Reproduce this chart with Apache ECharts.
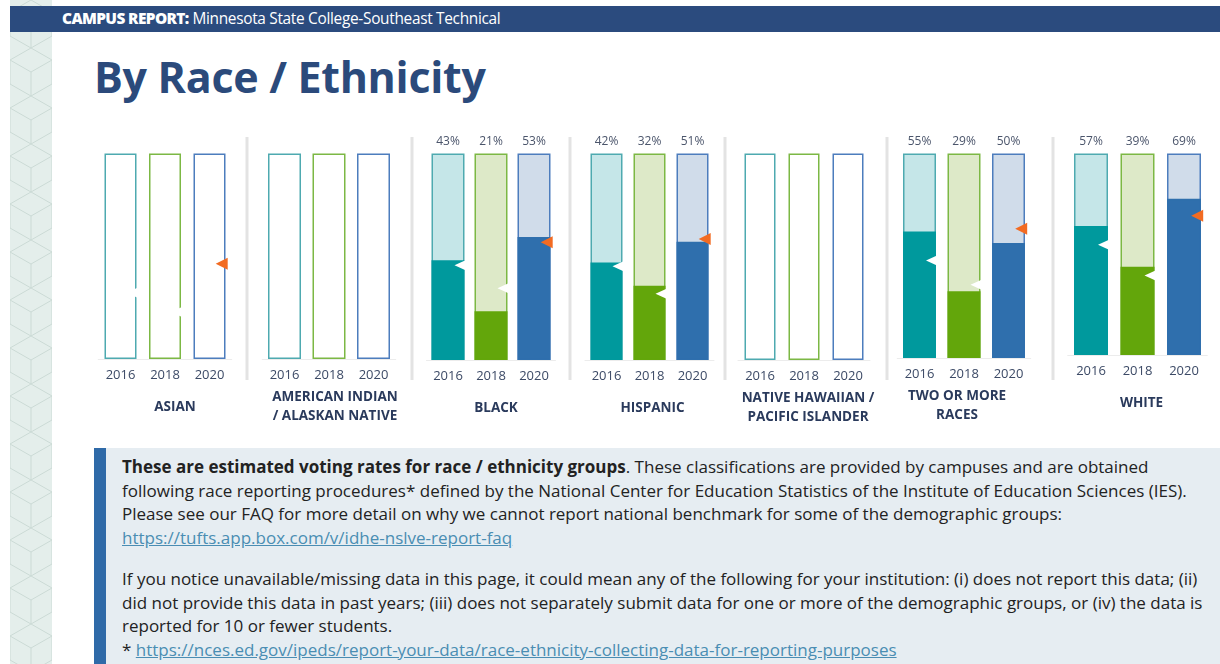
<!DOCTYPE html>
<html>
<head>
<meta charset="utf-8">
<script src="https://cdn.jsdelivr.net/npm/echarts@6/dist/echarts.min.js"></script>
<style>
  html, body { margin: 0; padding: 0; width: 1220px; height: 664px; overflow: hidden; background: #fff; font-family: 'Open Sans', sans-serif; }
  #stripe {
    position: absolute; left: 10px; top: 0; width: 42px; height: 664px; background-color: #e4eeeb;
    background-image: url("data:image/svg+xml;utf8,<svg xmlns='http://www.w3.org/2000/svg' width='42' height='48'><g fill='none' stroke='%23cbdad5' stroke-width='1'><path d='M21 0 L42 12 L42 36 L21 48 L0 36 L0 12 Z'/><path d='M21 24 L21 48 M21 24 L0 12 M21 24 L42 12'/></g></svg>");
  }
  #header {
    position: absolute; left: 10px; top: 6px; width: 1210px; height: 26px; background: #2b4b7e; color: #fff;
    font-size: 15.4px; line-height: 26px; padding-left: 52px; box-sizing: border-box; letter-spacing: -0.3px;
  }
  #header b { font-weight: 800; letter-spacing: -0.6px; }
  #title {
    position: absolute; left: 94px; top: 47px; font-size: 43px; font-weight: 700; color: #2b4a7b; letter-spacing: -0.3px;
  }
  #note {
    position: absolute; left: 94px; top: 448px; width: 1126px; height: 216px; background: #e6edf2;
    border-left: 12px solid #2f6aa8; box-sizing: border-box; padding: 7px 0 0 16px;
    font-size: 17px; line-height: 23.5px; color: #222; white-space: nowrap;
  }
  #note a { color: #4a8db3; text-decoration: underline; }
  #note p { margin: 0; }
  #note p + p { margin-top: 18px; }
  #chart { position: absolute; left: 0; top: 0; width: 1220px; height: 664px; pointer-events: none; }
</style>
</head>
<body>
<div id="stripe"></div>
<div id="header"><b>CAMPUS REPORT:</b> Minnesota State College-Southeast Technical</div>
<div id="title">By Race / Ethnicity</div>
<div id="note">
  <p><b>These are estimated voting rates for race / ethnicity groups</b>. These classifications are provided by campuses and are obtained<br>
  following race reporting procedures* defined by the National Center for Education Statistics of the Institute of Education Sciences (IES).<br>
  Please see our FAQ for more detail on why we cannot report national benchmark for some of the demographic groups:<br>
  <a>https://tufts.app.box.com/v/idhe-nslve-report-faq</a></p>
  <p>If you notice unavailable/missing data in this page, it could mean any of the following for your institution: (i) does not report this data; (ii)<br>
  did not provide this data in past years; (iii) does not separately submit data for one or more of the demographic groups, or (iv) the data is<br>
  reported for 10 or fewer students.<br>
  * <a>https://nces.ed.gov/ipeds/report-your-data/race-ethnicity-collecting-data-for-reporting-purposes</a></p>
</div>
<div id="chart"></div>
<script>
// 数据
const groupNames = ['ASIAN', 'AMERICAN INDIAN\n/ ALASKAN NATIVE', 'BLACK', 'HISPANIC',
  'NATIVE HAWAIIAN /\nPACIFIC ISLANDER', 'TWO OR MORE\nRACES', 'WHITE'];
const years = ['2016', '2018', '2020'];
const rate2016 = [null, null, 43, 42, null, 55, 57];
const rate2018 = [null, null, 21, 32, null, 29, 39];
const rate2020 = [null, null, 53, 51, null, 50, 69];
// national benchmark (triangles)
const bench2016 = [28.7, null, 40.8, 40.4, null, 42.4, 48.7];
const bench2018 = [20.4, null, 30.9, 28.6, null, 31.9, 35.1];
const bench2020 = [41.3, null, 50.8, 52.2, null, 56.2, 61.5];

// layout of each small chart
const centers = [165, 329, 491, 649.5, 804, 964, 1137.5];
const steps = [44.5, 44.5, 43, 43, 44, 44.5, 46.5];
const bottoms = [359, 359, 360, 360, 360, 358, 355];
const barWidths = [32, 33, 33, 32, 31, 33, 34];
const nameShift = [10, 6, 5, 3, 4, -7, 4]; // 组名相对中间柱的水平偏移
const barTop = 153.5;
const dividers = [247, 412, 570, 725, 887, 1053];
const AXIS_MAX = 89;

const dark = ['#00999d', '#63a60b', '#2f6fad'];
const light = ['#c5e6e8', '#dde9c8', '#d0dcea'];
const edge = ['#4eaab0', '#7cb844', '#4d7dbd'];
const markColor = ['#ffffff', '#ffffff', '#f26b22'];

const rates = [rate2016, rate2018, rate2020];
const bench = [bench2016, bench2018, bench2020];

const chart = echarts.init(document.getElementById('chart'), null, { renderer: 'canvas' });

let grids = [], xAxes = [], yAxes = [], series = [];
groupNames.forEach((name, g) => {
  const bw = barWidths[g];
  const s = nameShift[g];
  grids.push({
    left: centers[g] - 1.5 * steps[g],
    width: 3 * steps[g],
    top: barTop,
    height: bottoms[g] - barTop
  });
  xAxes.push({
    gridIndex: g,
    type: 'category',
    data: years,
    axisLine: { lineStyle: { color: '#ececec', width: 1 } },
    axisTick: { show: false },
    axisLabel: { color: '#3c4a66', fontSize: 13, margin: 10, fontFamily: 'Open Sans' },
    name: name,
    nameLocation: 'middle',
    nameGap: 48,
    nameTextStyle: {
      color: '#2a3a5c', fontSize: 13.5, fontWeight: 'bold', fontFamily: 'Open Sans',
      lineHeight: 19, verticalAlign: 'middle', align: 'center',
      padding: [0, s < 0 ? -2 * s : 0, 0, s > 0 ? 2 * s : 0]
    }
  });
  yAxes.push({ gridIndex: g, type: 'value', min: 0, max: AXIS_MAX, show: false });

  const hasData = rates.some(r => r[g] != null);
  // 背景柱 (全高)
  series.push({
    type: 'bar',
    xAxisIndex: g,
    yAxisIndex: g,
    barWidth: bw,
    barGap: '-100%',
    silent: true,
    label: { position: 'top', distance: 6, color: '#4b556b', fontSize: 12, fontFamily: 'Open Sans' },
    data: years.map((y, j) => ({
      value: AXIS_MAX,
      itemStyle: { color: hasData ? light[j] : '#fff', borderColor: edge[j], borderWidth: 1.5 },
      label: { show: rates[j][g] != null, formatter: rates[j][g] + '%' }
    }))
  });
  // 实际值
  series.push({
    type: 'bar',
    xAxisIndex: g,
    yAxisIndex: g,
    barWidth: bw,
    barGap: '-100%',
    silent: true,
    data: years.map((y, j) => ({
      value: rates[j][g],
      itemStyle: { color: dark[j], borderColor: dark[j], borderWidth: 1.5 }
    }))
  });
  // benchmark triangles
  series.push({
    type: 'scatter',
    xAxisIndex: g,
    yAxisIndex: g,
    symbol: 'triangle',
    symbolRotate: 90,
    silent: true,
    data: years.map((y, j) => ({
      value: [j, bench[j][g]],
      symbolSize: j === 2 ? [12, 12] : [10, 11],
      symbolOffset: [bw / 2 + (j === 2 ? 2.2 : 1) - (j === 2 ? 6 : 5.5), 0],
      itemStyle: { color: markColor[j], opacity: 1 }
    })).filter(d => d.value[1] != null)
  });
});

chart.setOption({
  animation: false,
  grid: grids,
  xAxis: xAxes,
  yAxis: yAxes,
  series: series,
  graphic: dividers.map(x => ({
    type: 'line',
    silent: true,
    shape: { x1: x, y1: 137, x2: x, y2: 380 },
    style: { stroke: '#e3e3e3', lineWidth: 3 }
  }))
});
</script>
</body>
</html>
